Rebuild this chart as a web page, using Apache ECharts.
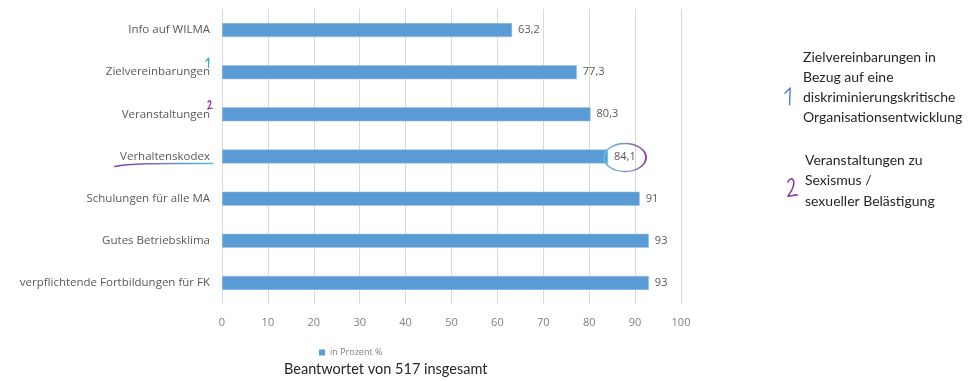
<!DOCTYPE html>
<html>
<head>
<meta charset="utf-8">
<script src="https://cdn.jsdelivr.net/npm/echarts@6/dist/echarts.min.js"></script>
<style>
  html, body { margin: 0; padding: 0; background: #fff; }
  #chart { width: 977px; height: 381px; }
</style>
</head>
<body>
<div id="chart"></div>
<script>
// Survey answers: share of respondents per measure (percent)
const categories = [
  'Info auf WILMA',
  'Zielvereinbarungen',
  'Veranstaltungen',
  'Verhaltenskodex',
  'Schulungen für alle MA',
  'Gutes Betriebsklima',
  'verpflichtende Fortbildungen für FK'
];
const values = [63.2, 77.3, 80.3, 84.1, 91, 93, 93];
const xTicks = [0, 10, 20, 30, 40, 50, 60, 70, 80, 90, 100];
const seriesName = 'in Prozent %';
const footnote = 'Beantwortet von 517 insgesamt';
const note1 = 'Zielvereinbarungen in\nBezug auf eine\ndiskriminierungskritische\nOrganisationsentwicklung';
const note2 = 'Veranstaltungen zu\nSexismus /\nsexueller Belästigung';

const FONT = '"Open Sans", Lato, sans-serif';
const FONT2 = 'Lato, "Liberation Sans", sans-serif';
const chart = echarts.init(document.getElementById('chart'), null, { renderer: 'canvas' });

function hGrad(stops) {
  return { type: 'linear', x: 0, y: 0, x2: 1, y2: 0, colorStops: stops };
}

chart.setOption({
  animation: false,
  backgroundColor: '#ffffff',
  grid: { left: 222, right: 296, top: 9, bottom: 77, containLabel: false },
  legend: {
    data: [seriesName],
    left: 314, top: 343,
    itemWidth: 6, itemHeight: 6, itemGap: 4,
    icon: 'rect',
    itemStyle: { color: '#5b9bd5', borderWidth: 0 },
    textStyle: { color: '#7f7f7f', fontSize: 9, fontFamily: FONT }
  },
  xAxis: {
    type: 'value',
    min: xTicks[0], max: xTicks[xTicks.length - 1], interval: 10,
    axisLine: { show: false },
    axisTick: { show: false },
    splitLine: { lineStyle: { color: '#d9d9d9', width: 1 } },
    axisLabel: { color: '#7f7f7f', fontSize: 11, fontFamily: FONT, margin: 13 }
  },
  yAxis: {
    type: 'category',
    inverse: true,
    data: categories,
    axisLine: { show: false },
    axisTick: { show: false },
    axisLabel: { color: '#595959', fontSize: 11.5, fontFamily: FONT, margin: 12 }
  },
  series: [{
    name: seriesName,
    type: 'bar',
    data: values,
    barWidth: 14,
    itemStyle: { color: '#5b9bd5', borderColor: '#9dc3e6', borderWidth: 0.5 },
    label: {
      show: true,
      position: 'right',
      distance: 6,
      color: '#595959',
      fontSize: 11,
      fontFamily: FONT,
      formatter: p => String(p.value).replace('.', ',')
    }
  }]
});

// Hand-drawn marks placed relative to the axes
function px(x, cat) {
  return chart.convertToPixel({ xAxisIndex: 0, yAxisIndex: 0 }, [x, cat]);
}
const rowZiel = px(0, categories[1]);
const rowVer = px(0, categories[2]);
const rowKod = px(0, categories[3]);
const circ = px(values[3], categories[3]);

const teal = '#2bb5a6', purple = '#8a3aa8', blue = '#4f7fc7';
const pen = (color, w) => ({ fill: null, stroke: color, lineWidth: w, lineCap: 'round', lineJoin: 'round' });

// handwritten "2": a hook drawn as a curve, then a foot stroke
function two(x, y, s, color, w) {
  return [
    {
      type: 'bezierCurve', silent: true, z: 100,
      shape: { x1: x, y1: y + 3 * s, cpx1: x + 2 * s, cpy1: y - 2 * s, cpx2: x + 9 * s, cpy2: y + 1 * s, x2: x, y2: y + 14 * s },
      style: pen(color, w)
    },
    {
      type: 'line', silent: true, z: 100,
      shape: { x1: x, y1: y + 14 * s, x2: x + 7 * s, y2: y + 13 * s },
      style: pen(color, w)
    }
  ];
}
// handwritten "1": a short flag and a stem
function one(x, y, s, color, w) {
  return {
    type: 'polyline', silent: true, z: 100,
    shape: { points: [[x, y + 4 * s], [x + 4 * s, y], [x + 3.5 * s, y + 13 * s]] },
    style: pen(color, w)
  };
}

chart.setOption({
  graphic: [
    one(rowZiel[0] - 16, rowZiel[1] - 14, 0.7, teal, 1.3),
    ...two(rowVer[0] - 14, rowVer[1] - 14, 0.6, purple, 1.3),
    // underline under Verhaltenskodex
    {
      type: 'bezierCurve', silent: true, z: 100,
      shape: {
        x1: rowKod[0] - 107, y1: rowKod[1] + 10,
        cpx1: rowKod[0] - 90, cpy1: rowKod[1] + 6,
        cpx2: rowKod[0] - 50, cpy2: rowKod[1] + 7,
        x2: rowKod[0] - 9, y2: rowKod[1] + 7
      },
      style: pen(hGrad([{ offset: 0, color: purple }, { offset: 1, color: '#4ac6d8' }]), 1.5)
    },
    // loop around the 84,1 label
    {
      type: 'circle', silent: true, z: 100,
      x: circ[0] + 17, y: circ[1] + 1,
      scaleX: 1.5,
      shape: { cx: 0, cy: 0, r: 14 },
      style: {
        fill: null, lineWidth: 1.3, strokeNoScale: true,
        stroke: hGrad([
          { offset: 0, color: '#5cc6d6' }, { offset: 0.5, color: '#7a8fd0' }, { offset: 1, color: purple }
        ])
      }
    },
    // footnote under the legend
    {
      type: 'text', silent: true,
      left: 284, top: 362,
      style: { text: footnote, fill: '#262626', font: '14.5px ' + FONT2 }
    },
    // side notes
    {
      type: 'text', silent: true,
      left: 803, top: 47,
      style: { text: note1, fill: '#262626', font: '14px ' + FONT2, lineHeight: 20 }
    },
    one(785, 88, 1.3, blue, 1.4),
    {
      type: 'text', silent: true,
      left: 805, top: 150,
      style: { text: note2, fill: '#262626', font: '14px ' + FONT2, lineHeight: 20.5 }
    },
    ...two(788, 178, 1.3, purple, 1.6)
  ]
});
</script>
</body>
</html>
